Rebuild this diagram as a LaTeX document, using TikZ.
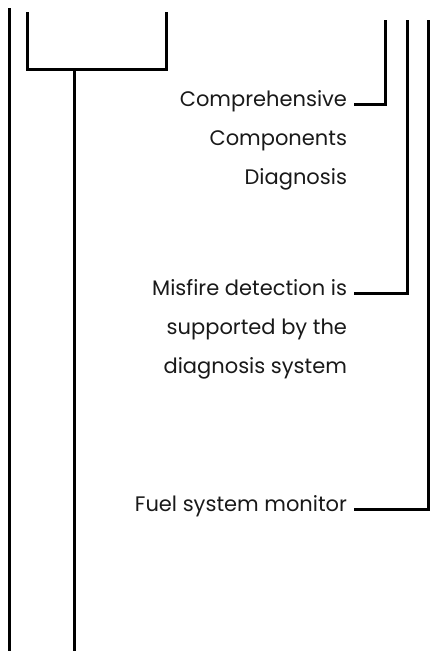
\documentclass[tikz,border=0pt]{standalone}
\usepackage{fontspec}
\setmainfont{Poppins}
\begin{document}
\begin{tikzpicture}[x=1pt,y=-1pt,
  wire/.style={line width=3pt},
  lbl/.style={font=\fontsize{21}{24}\selectfont, text=black!90, inner xsep=7pt, inner ysep=0pt, outer sep=0pt, anchor=mid east}]
\useasboundingbox (0,0) rectangle (429,651);
% left structure
\coordinate (L1t) at (9,8);
\coordinate (L1b) at (9,651);
\draw[wire] (L1t) -- (L1b);
\coordinate (Bl) at (27,12);
\coordinate (Br) at (166,12);
\coordinate (Bj) at (74,69);
\coordinate (Sb) at (74,651);
\draw[wire] (Bl) |- (Bj) -| (Br);
\draw[wire] (Bj) -- (Sb);
% labels
\node[lbl] (comp)  at (354,104) {Comprehensive};
\node[lbl] (compb) at (354,143) {Components};
\node[lbl] (compc) at (354,182) {Diagnosis};
\node[lbl] (mis)   at (354,293) {Misfire detection is};
\node[lbl] (misb)  at (354,332) {supported by the};
\node[lbl] (misc)  at (354,371) {diagnosis system};
\node[lbl] (fuel)  at (354,509) {Fuel system monitor};
% right wires
\coordinate (W1) at (385,20);
\coordinate (W2) at (407,20);
\coordinate (W3) at (428,20);
\draw[wire] (comp.mid east) -| (W1);
\draw[wire] (mis.mid east) -| (W2);
\draw[wire] (fuel.mid east) -| (W3);
\end{tikzpicture}
\end{document}
